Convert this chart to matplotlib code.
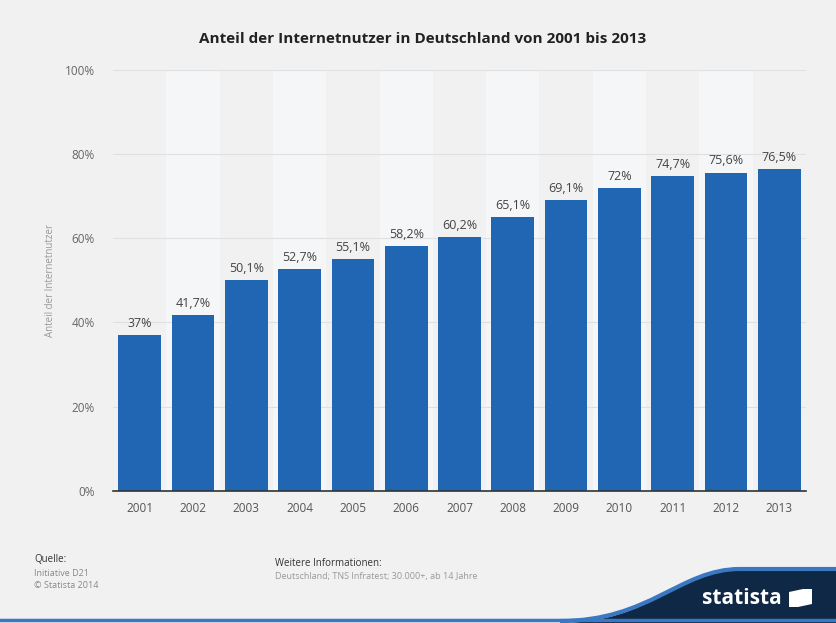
import matplotlib.pyplot as plt
from matplotlib.patches import PathPatch
from matplotlib.path import Path

jahre = ['2001', '2002', '2003', '2004', '2005', '2006', '2007',
         '2008', '2009', '2010', '2011', '2012', '2013']
anteil = [37, 41.7, 50.1, 52.7, 55.1, 58.2, 60.2, 65.1, 69.1, 72, 74.7, 75.6, 76.5]
ticks = [0, 20, 40, 60, 80, 100]

plt.rcParams['font.family'] = ['Open Sans', 'DejaVu Sans']

bg = '#f1f1f1'
fig = plt.figure(figsize=(8.37, 6.23), dpi=100, facecolor=bg)
ax = fig.add_axes([0.135, 0.212, 0.828, 0.676], facecolor=bg)

x = range(len(jahre))
# helle Streifen hinter jeder zweiten Saeule
for i in x:
    if i % 2 == 1:
        ax.axvspan(i - 0.5, i + 0.5, color='#f5f6f7', zorder=0, lw=0)

for t in ticks[1:]:
    ax.axhline(t, color='#e0e0e0', lw=0.8, zorder=1)

ax.bar(x, anteil, width=0.8, color='#2166b3', zorder=2)
for i, v in zip(x, anteil):
    txt = f'{v:g}'.replace('.', ',') + '%'
    ax.text(i, v + 1.2, txt, ha='center', va='bottom', fontsize=9, color='#444444')

ax.set_xlim(-0.5, len(jahre) - 0.5)
ax.set_ylim(0, 100)
ax.set_xticks(list(x))
ax.set_xticklabels(jahre, fontsize=8.5, color='#555555')
ax.set_yticks(ticks)
ax.set_yticklabels([f'{t}%' for t in ticks], fontsize=8.5, color='#666666')
ax.tick_params(axis='x', length=0, pad=8)
ax.tick_params(axis='y', length=0, pad=13)
for s in ['top', 'right', 'left']:
    ax.spines[s].set_visible(False)
ax.spines['bottom'].set_color('#333333')
ax.spines['bottom'].set_linewidth(1.2)
ax.set_ylabel('Anteil der Internetnutzer', fontsize=7, color='#999999')
ax.yaxis.set_label_coords(-0.082, 0.5)

fig.text(0.505, 0.938, 'Anteil der Internetnutzer in Deutschland von 2001 bis 2013',
         ha='center', va='center', fontsize=11, fontweight='bold', color='#222222')

W, H = 837, 623
def fc(px, py):
    return (px / W, 1 - py / H)

# Fusszeile
fig.text(*fc(34, 559), 'Quelle:', fontsize=7, color='#333333', va='center')
fig.text(*fc(34, 573), 'Initiative D21', fontsize=6.5, color='#888888', va='center')
fig.text(*fc(34, 585), '\u00a9 Statista 2014', fontsize=6.5, color='#888888', va='center')
fig.text(*fc(275, 563), 'Weitere Informationen:', fontsize=7, color='#333333', va='center')
fig.text(*fc(275, 576), 'Deutschland; TNS Infratest; 30.000+, ab 14 Jahre',
         fontsize=6.5, color='#999999', va='center')

band = Path([fc(560, 623), fc(650, 623), fc(680, 570), fc(740, 570), fc(837, 570),
             fc(837, 623), fc(560, 623)],
            [Path.MOVETO, Path.CURVE4, Path.CURVE4, Path.CURVE4, Path.LINETO,
             Path.LINETO, Path.CLOSEPOLY])
fig.patches.append(PathPatch(band, transform=fig.transFigure, facecolor='#0e2846',
                             edgecolor='none'))
kurve = Path([fc(560, 621), fc(650, 621), fc(680, 569), fc(740, 569), fc(837, 569)],
             [Path.MOVETO, Path.CURVE4, Path.CURVE4, Path.CURVE4, Path.LINETO])
fig.patches.append(PathPatch(kurve, transform=fig.transFigure, facecolor='none',
                             edgecolor='#3a78c2', lw=3))
fig.add_artist(plt.Line2D([0, 1], [1 - 620 / H] * 2, transform=fig.transFigure,
                          color='#3a78c2', lw=2.5))
fig.text(*fc(742, 598), 'statista', fontsize=15, color='white', ha='center',
         va='center', fontweight='bold')
logo = Path([fc(789, 607), fc(789, 592), fc(803, 589), fc(812, 589), fc(812, 604),
             fc(798, 607), fc(789, 607)],
            [Path.MOVETO, Path.LINETO, Path.LINETO, Path.LINETO, Path.LINETO,
             Path.LINETO, Path.CLOSEPOLY])
fig.patches.append(PathPatch(logo, transform=fig.transFigure, facecolor='white',
                             edgecolor='none'))

fig.savefig('out.png', dpi=100, facecolor=bg)
